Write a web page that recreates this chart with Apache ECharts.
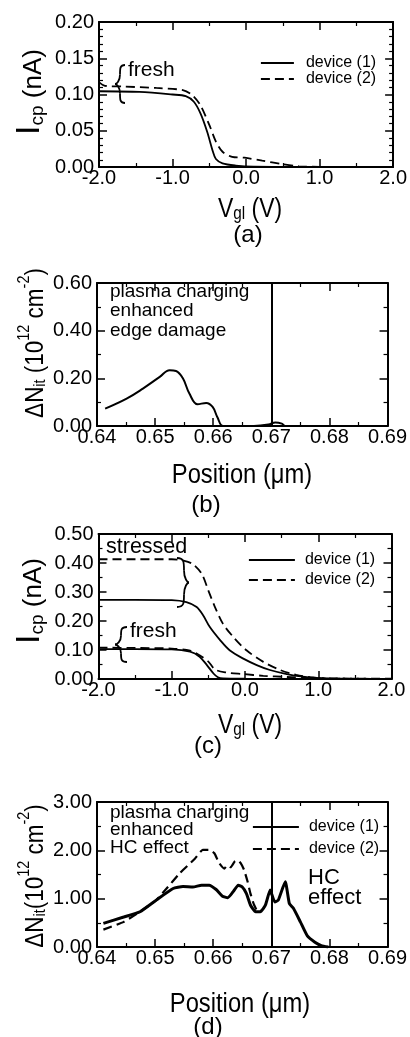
<!DOCTYPE html>
<html><head><meta charset="utf-8">
<script src="https://cdn.jsdelivr.net/npm/echarts@6/dist/echarts.min.js"></script>
<style>html,body{margin:0;padding:0;background:#fff}#c{width:410px;height:1037px}</style>
</head><body><div id="c"></div>
<script>
// ---------- data ----------
// (a) fresh charge-pumping current vs Vgl
const aVgl1 = [-2.0, -1.45, -1.0, -0.82, -0.71, -0.62, -0.53, -0.45, -0.41, -0.32, -0.14, 0.1, 0.5, 1.0, 1.5, 2.0];
const aIcp1 = [0.1045, 0.1036, 0.100, 0.0977, 0.090, 0.074, 0.049, 0.021, 0.011, 0.005, 0.002, 0.0005, 0.0003, 0.0003, 0.0002, 0.0002];
const aVgl2 = [-2.0, -1.92, -1.68, -1.22, -0.86, -0.73, -0.62, -0.50, -0.41, -0.32, -0.19, -0.02, 0.22, 0.49, 0.72, 1.0, 1.5, 2.0];
const aIcp2 = [0.117, 0.112, 0.111, 0.109, 0.106, 0.099, 0.085, 0.058, 0.035, 0.021, 0.014, 0.0128, 0.0087, 0.004, 0.001, 0.0003, 0.0002, 0.0002];

// (b) interface-trap profile, plasma charging edge damage
const bPos = [0.6414, 0.6451, 0.6479, 0.6508, 0.6525, 0.6536, 0.6548, 0.6559, 0.6573, 0.6588, 0.6599, 0.6607, 0.6617, 0.6640, 0.6670, 0.6695, 0.6707, 0.6718, 0.6724, 0.6800, 0.6900];
const bNit = [0.073, 0.115, 0.157, 0.206, 0.234, 0.231, 0.199, 0.136, 0.091, 0.097, 0.080, 0.038, 0.0, 0.0, 0.0, 0.006, 0.015, 0.010, 0.0, 0.0, 0.0];
const junctionPos = [0.6675];

// (c) fresh and stressed charge-pumping current
const cVglS1 = [-2.0, -1.5, -1.0, -0.80, -0.66, -0.57, -0.48, -0.34, -0.21, -0.03, 0.16, 0.34, 0.57, 0.79, 1.0, 1.3, 2.0];
const cIcpS1 = [0.273, 0.273, 0.272, 0.265, 0.248, 0.219, 0.179, 0.134, 0.099, 0.071, 0.048, 0.031, 0.017, 0.008, 0.003, 0.001, 0.0005];
const cVglS2 = [-2.0, -1.5, -1.0, -0.84, -0.71, -0.59, -0.50, -0.41, -0.30, -0.16, 0.02, 0.25, 0.48, 0.70, 0.89, 1.1, 1.5, 2.0];
const cIcpS2 = [0.413, 0.413, 0.413, 0.408, 0.396, 0.362, 0.305, 0.248, 0.19, 0.145, 0.099, 0.059, 0.031, 0.014, 0.006, 0.002, 0.001, 0.0005];
const cVglF1 = [-2.0, -1.5, -1.0, -0.75, -0.62, -0.52, -0.43, -0.37, -0.30, 0.0, 1.0, 2.0];
const cIcpF1 = [0.103, 0.103, 0.102, 0.094, 0.077, 0.048, 0.019, 0.006, 0.002, 0.001, 0.0005, 0.0003];
const cVglF2 = [-2.0, -1.5, -1.0, -0.75, -0.62, -0.50, -0.41, -0.27, -0.025, 0.25, 0.57, 0.84, 1.2, 2.0];
const cIcpF2 = [0.108, 0.107, 0.105, 0.098, 0.082, 0.060, 0.033, 0.023, 0.017, 0.011, 0.007, 0.004, 0.002, 0.001];

// (d) interface-trap profiles after HC stress
const dPos1 = [0.6411, 0.6446, 0.6474, 0.6502, 0.6531, 0.6548, 0.6565, 0.6580, 0.6593, 0.6605, 0.6616, 0.6625, 0.6634, 0.6643, 0.6650, 0.6657, 0.6664, 0.6673, 0.6681, 0.6690, 0.6698, 0.6706, 0.6712, 0.6724, 0.6731, 0.6738, 0.6750, 0.6762, 0.6775, 0.6786, 0.6798];
const dNit1 = [0.49, 0.62, 0.73, 0.97, 1.21, 1.25, 1.24, 1.28, 1.28, 1.19, 1.05, 1.02, 1.14, 1.28, 1.24, 1.11, 0.87, 0.73, 0.73, 0.87, 1.18, 0.93, 0.97, 1.35, 0.90, 0.80, 0.52, 0.23, 0.10, 0.03, 0.0];
const dPos2 = [0.6411, 0.6446, 0.6474, 0.6502, 0.6519, 0.6542, 0.6568, 0.6582, 0.6593, 0.6602, 0.6610, 0.6619, 0.6624, 0.6630, 0.6637, 0.6642, 0.6647, 0.6653, 0.6659, 0.6664, 0.6670, 0.6676];
const dNit2 = [0.36, 0.52, 0.73, 0.97, 1.20, 1.52, 1.82, 2.01, 2.01, 1.94, 1.74, 1.62, 1.69, 1.65, 1.77, 1.80, 1.74, 1.60, 1.36, 1.11, 0.88, 0.73];

const legendNames = ['device (1)', 'device (2)'];

// ---------- chart ----------
const FONT = '"Liberation Sans", Arial, sans-serif';
const pairs = (xs, ys) => xs.map((x, i) => [x, ys[i]]);

const grids = [
  {left: 99, top: 22, width: 296, height: 145},
  {left: 97, top: 283, width: 293, height: 143},
  {left: 98.5, top: 534, width: 293, height: 145},
  {left: 97, top: 802, width: 293, height: 145}
];

function axisPair(kind, gi, min, max, interval, minorSplit, digits) {
  const base = {
    type: 'value', gridIndex: gi, min, max, interval,
    axisLine: {show: true, onZero: false, lineStyle: {color: '#000', width: 2}},
    axisTick: {show: true, inside: true, length: 8, lineStyle: {color: '#000', width: 1.5}},
    minorTick: {show: true, splitNumber: minorSplit, length: 4, lineStyle: {color: '#000', width: 1.2}},
    splitLine: {show: false}, minorSplitLine: {show: false}
  };
  const main = Object.assign({}, base, {
    position: kind === 'x' ? 'bottom' : 'left',
    axisLabel: {
      color: '#000', fontFamily: FONT, fontSize: 20,
      margin: kind === 'x' ? 1 : 5,
      formatter: v => v.toFixed(digits)
    }
  });
  const twin = Object.assign({}, base, {
    position: kind === 'x' ? 'top' : 'right',
    axisLabel: {show: false}
  });
  return [main, twin];
}

const xAxes = [].concat(
  axisPair('x', 0, -2, 2, 1, 2, 1),
  axisPair('x', 1, 0.64, 0.69, 0.01, 2, 2),
  axisPair('x', 2, -2, 2, 1, 2, 1),
  axisPair('x', 3, 0.64, 0.69, 0.01, 2, 2)
);
const yAxes = [].concat(
  axisPair('y', 0, 0, 0.2, 0.05, 5, 2),
  axisPair('y', 1, 0, 0.6, 0.2, 2, 2),
  axisPair('y', 2, 0, 0.5, 0.1, 2, 2),
  axisPair('y', 3, 0, 3, 1, 2, 2)
);

const solid = w => ({color: '#000', width: w, type: 'solid'});
const dashed = w => ({color: '#000', width: w, type: [9, 5]});
function line(name, gi, data, ls, smooth, extra) {
  return Object.assign({
    type: 'line', name, xAxisIndex: 2 * gi, yAxisIndex: 2 * gi, data,
    showSymbol: false, symbol: 'none', smooth, lineStyle: ls, itemStyle: {color: '#000'},
    animation: false, z: 3
  }, extra || {});
}
const vline = {
  silent: true, symbol: 'none', label: {show: false},
  lineStyle: {color: '#000', width: 2, type: 'solid'},
  data: junctionPos.map(p => ({xAxis: p}))
};

const series = [
  line('device (1)', 0, pairs(aVgl1, aIcp1), solid(1.8), 0.3),
  line('device (2)', 0, pairs(aVgl2, aIcp2), dashed(1.8), 0.3),
  line('edge damage', 1, pairs(bPos, bNit), solid(2), 0.4, {markLine: vline}),
  line('device (1)', 2, pairs(cVglS1, cIcpS1), solid(1.8), 0.3),
  line('device (2)', 2, pairs(cVglS2, cIcpS2), dashed(1.8), 0.3),
  line('device (1)', 2, pairs(cVglF1, cIcpF1), solid(1.8), 0.3),
  line('device (2)', 2, pairs(cVglF2, cIcpF2), dashed(1.8), 0.3),
  line('device (1)', 3, pairs(dPos1, dNit1), solid(3), 0.15, {markLine: vline}),
  line('device (2)', 3, pairs(dPos2, dNit2), dashed(2.2), 0.15)
];

function legend(left, top, itemWidth, gap, pad) {
  return {
    left, top, orient: 'vertical', padding: 0, itemWidth, itemHeight: 12, itemGap: gap,
    data: legendNames, selectedMode: false,
    itemStyle: {color: 'rgba(0,0,0,0)', borderWidth: 0, opacity: 0},
    lineStyle: {width: 1.8},
    textStyle: {fontFamily: FONT, fontSize: 16, lineHeight: 16, color: '#000', padding: [0, 0, 0, pad]}
  };
}

// curly brace annotations built from bezier segments (annotation layout only)
const braceStyle = {stroke: '#000', fill: 'none', lineWidth: 1.8};
function bez(x1, y1, cpx1, cpy1, cpx2, cpy2, x2, y2) {
  return {type: 'bezierCurve', silent: true, shape: {x1, y1, x2, y2, cpx1, cpy1, cpx2, cpy2}, style: braceStyle};
}
// tipX: x of the two ends, spineX: vertical stroke, pointX: x of the middle point
function brace(tipX, spineX, pointX, y, h) {
  const ym = y + h / 2;
  return [
    bez(tipX, y, spineX, y, spineX, y + h * 0.08, spineX, y + h * 0.25),
    bez(spineX, y + h * 0.25, spineX, ym - h * 0.08, pointX + (spineX - pointX) * 0.3, ym, pointX, ym),
    bez(pointX, ym, pointX + (spineX - pointX) * 0.3, ym, spineX, ym + h * 0.08, spineX, y + h * 0.75),
    bez(spineX, y + h * 0.75, spineX, y + h * 0.92, spineX, y + h, tipX, y + h)
  ];
}

function txt(text, x, y, size, style) {
  return {
    type: 'text', x, y, silent: true,
    style: Object.assign({text, fontFamily: FONT, fontSize: size, fill: '#000', align: 'left', verticalAlign: 'middle'}, style || {})
  };
}

const richMain = sz => ({fontFamily: FONT, fontSize: sz, lineHeight: 32, verticalAlign: 'bottom', fill: '#000'});
const richSub = sz => ({fontFamily: FONT, fontSize: sz, lineHeight: 12, verticalAlign: 'bottom', fill: '#000'});
const richSup = sz => ({fontFamily: FONT, fontSize: sz, lineHeight: 12, verticalAlign: 'top', fill: '#000'});

function title(text, x, y, rotate, rich, scaleX) {
  return {
    type: 'text', x, y, rotation: rotate ? Math.PI / 2 : 0, scaleX: scaleX || 1, silent: true,
    style: {text, rich, align: 'center', verticalAlign: 'middle', fill: '#000', fontFamily: FONT}
  };
}
const icpRich = {I: richMain(34), s: richSub(19), m: richMain(26)};
const vglRich = {m: richMain(27), s: richSub(18)};
const nitRich = {m: richMain(25), s: richSub(16), p: richSup(16)};
const posRich = {m: richMain(27)};

const graphics = [].concat(
  [
    // axis titles
    title('{I|I}{s|cp}{m| (nA)}', 31, 92, true, icpRich, 1),
    title('{m|V}{s|gl}{m| (V)}', 250, 207, false, vglRich, 0.85),
    title('{m|ΔN}{s|it}{m| (10}{p|12}{m| cm}{p|-2}{m|)}', 33, 343, true, nitRich, 0.9),
    title('{m|Position (μm)}', 242, 473, false, posRich, 0.88),
    title('{I|I}{s|cp}{m| (nA)}', 31, 601, true, icpRich, 1),
    title('{m|V}{s|gl}{m| (V)}', 250, 723, false, vglRich, 0.85),
    title('{m|ΔN}{s|it}{m|(10}{p|12}{m| cm}{p|-2}{m|)}', 33, 876, true, nitRich, 0.9),
    title('{m|Position (μm)}', 240, 1002, false, posRich, 0.88),
    // captions
    txt('(a)', 248, 235, 24, {align: 'center'}),
    txt('(b)', 206, 505, 24, {align: 'center'}),
    txt('(c)', 208, 746, 24, {align: 'center'}),
    txt('(d)', 208, 1027, 24, {align: 'center'}),
    // annotations
    txt('fresh', 128, 70, 21),
    txt('stressed', 106, 547, 21.5),
    txt('fresh', 130, 631, 21),
    txt('plasma charging\nenhanced\nedge damage', 110, 311, 19, {lineHeight: 19.5}),
    txt('plasma charging\nenhanced\nHC effect', 110, 830, 19, {lineHeight: 17.5}),
    txt('HC\neffect', 308, 888, 22, {lineHeight: 20})
  ],
  brace(125, 120, 115, 65, 38),
  brace(177, 184, 189, 558, 49),
  brace(127, 121, 115, 627, 35)
);

const chart = echarts.init(document.getElementById('c'), null, {renderer: 'canvas'});
chart.setOption({
  animation: false,
  backgroundColor: '#fff',
  textStyle: {fontFamily: FONT},
  grid: grids,
  xAxis: xAxes,
  yAxis: yAxes,
  legend: [
    legend(260, 55, 33, 0, 7),
    legend(248, 552, 46, 4, 5),
    legend(252, 819, 46, 6, 5)
  ],
  series,
  graphic: {elements: graphics}
});
</script>
</body></html>
